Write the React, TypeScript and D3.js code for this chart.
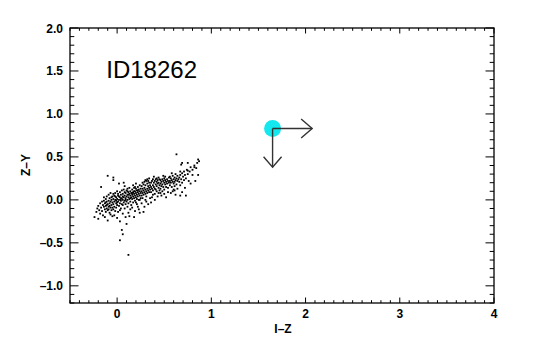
import React, { useEffect, useRef } from 'react';
import * as d3 from 'd3';

// colour-colour points (I-Z, Z-Y)
const pointsBlue: [number, number][] = [
  [-0.24, -0.2], [-0.22, -0.14], [-0.21, -0.1], [-0.2, -0.07], [-0.19, -0.12], [-0.18, -0.04], [-0.18, -0.16],
  [-0.17, -0.09], [-0.16, -0.02], [-0.16, -0.13], [-0.15, -0.06], [-0.17, 0.15], [-0.2, -0.22], [-0.15, -0.18],
  [-0.14, -0.08], [-0.14, -0.01], [-0.13, -0.11], [-0.13, -0.04], [-0.12, 0.01], [-0.12, -0.14], [-0.12, -0.07],
  [-0.11, -0.02], [-0.11, -0.1], [-0.11, 0.04], [-0.1, -0.05], [-0.1, -0.12], [-0.1, 0.28], [-0.09, -0.01],
  [-0.09, -0.08], [-0.09, 0.06], [-0.08, -0.04], [-0.08, -0.15], [-0.08, 0.02], [-0.07, -0.09], [-0.07, -0.02],
  [-0.07, 0.08], [-0.06, -0.06], [-0.06, 0.0], [-0.06, -0.12], [-0.05, -0.03], [-0.05, 0.04], [-0.05, -0.19],
  [-0.13, -0.2], [-0.1, -0.24], [-0.07, -0.17], [-0.14, 0.03], [-0.12, -0.03], [-0.09, -0.11], [-0.11, -0.06],
  [-0.06, 0.03], [-0.08, -0.07], [-0.05, -0.09], [-0.04, 0.26], [-0.04, 0.23],
];

const pointsCore: [number, number][] = [
  [-0.04, -0.05], [-0.04, 0.01], [-0.04, -0.11], [-0.03, 0.05], [-0.03, -0.02], [-0.03, -0.08], [-0.02, 0.0],
  [-0.02, -0.13], [-0.02, 0.08], [-0.01, -0.04], [-0.01, 0.03], [-0.01, -0.09], [0.0, 0.01], [0.0, -0.06],
  [0.0, 0.1], [0.01, -0.02], [0.01, 0.05], [0.01, -0.14], [0.02, 0.0], [0.02, -0.07], [0.02, 0.19], [0.03, 0.03],
  [0.03, -0.04], [0.03, 0.09], [0.04, -0.01], [0.04, -0.1], [0.04, 0.06], [0.05, 0.02], [0.05, -0.05],
  [-0.03, -0.18], [0.0, -0.21], [0.03, -0.25], [0.05, -0.35], [0.03, -0.47], [0.06, -0.4], [-0.02, 0.04],
  [0.01, 0.07], [0.04, 0.01], [-0.01, -0.01], [0.02, 0.04], [0.0, -0.03], [0.05, 0.11], [-0.04, 0.07],
  [0.03, -0.12], [0.12, -0.64],
  [0.06, 0.0], [0.06, 0.07], [0.06, -0.06], [0.07, 0.03], [0.07, -0.03], [0.07, 0.12], [0.08, 0.05], [0.08, -0.01],
  [0.08, -0.1], [0.09, 0.08], [0.09, 0.02], [0.09, -0.05], [0.1, 0.04], [0.1, 0.11], [0.1, -0.02], [0.11, 0.06],
  [0.11, 0.0], [0.11, -0.08], [0.12, 0.09], [0.12, 0.03], [0.12, -0.04], [0.13, 0.07], [0.13, 0.01], [0.13, 0.14],
  [0.14, 0.05], [0.14, -0.02], [0.14, 0.1], [0.15, 0.03], [0.15, 0.08], [0.06, -0.16], [0.09, -0.2], [0.12, -0.15],
  [0.14, -0.11], [0.08, 0.16], [0.11, 0.13], [0.07, 0.2], [0.13, -0.19], [0.1, -0.28], [0.15, -0.06], [0.09, 0.0],
  [0.12, 0.06], [0.06, 0.04], [0.14, 0.02], [0.11, 0.1], [0.08, 0.09],
  [0.16, 0.06], [0.16, 0.01], [0.16, 0.12], [0.17, 0.04], [0.17, 0.09], [0.17, -0.03], [0.18, 0.07], [0.18, 0.14],
  [0.18, 0.02], [0.19, 0.1], [0.19, 0.05], [0.19, -0.01], [0.2, 0.08], [0.2, 0.13], [0.2, 0.03], [0.21, 0.06],
  [0.21, 0.11], [0.21, -0.05], [0.22, 0.09], [0.22, 0.15], [0.22, 0.04], [0.23, 0.07], [0.23, 0.12], [0.23, 0.0],
  [0.24, 0.1], [0.24, 0.05], [0.24, 0.17], [0.25, 0.08], [0.25, 0.13], [0.16, -0.09], [0.19, -0.13], [0.22, -0.08],
  [0.24, -0.15], [0.18, -0.2], [0.2, 0.19], [0.17, 0.17], [0.23, -0.11], [0.21, 0.01], [0.25, 0.02], [0.18, 0.1],
  [0.2, -0.03], [0.22, 0.11], [0.16, 0.08], [0.24, 0.0], [0.19, 0.15],
];

const pointsRed: [number, number][] = [
  [0.26, 0.1], [0.26, 0.05], [0.26, 0.16], [0.27, 0.08], [0.27, 0.13], [0.27, 0.02], [0.28, 0.11], [0.28, 0.18],
  [0.28, 0.06], [0.29, 0.09], [0.29, 0.14], [0.29, 0.21], [0.3, 0.12], [0.3, 0.07], [0.3, 0.17], [0.31, 0.1],
  [0.31, 0.22], [0.31, 0.04], [0.32, 0.13], [0.32, 0.19], [0.32, 0.08], [0.33, 0.11], [0.33, 0.16], [0.33, 0.22],
  [0.34, 0.14], [0.34, 0.09], [0.34, 0.2], [0.35, 0.12], [0.35, 0.17], [0.26, -0.04], [0.29, -0.08], [0.31, -0.02],
  [0.33, -0.05], [0.28, -0.14], [0.35, 0.02], [0.3, 0.23], [0.32, 0.24], [0.27, 0.2], [0.34, 0.25], [0.3, 0.0],
  [0.36, 0.15], [0.36, 0.2], [0.36, 0.09], [0.37, 0.13], [0.37, 0.22], [0.38, 0.17], [0.38, 0.11], [0.38, 0.24],
  [0.39, 0.15], [0.39, 0.2], [0.4, 0.13], [0.4, 0.22], [0.4, 0.07], [0.41, 0.18], [0.41, 0.24], [0.42, 0.16],
  [0.42, 0.21], [0.42, 0.1], [0.43, 0.19], [0.43, 0.23], [0.44, 0.14], [0.44, 0.2], [0.45, 0.17], [0.45, 0.24],
  [0.37, 0.03], [0.4, 0.0], [0.43, 0.04], [0.39, 0.27], [0.44, 0.08], [0.36, -0.03], [0.41, 0.12], [0.45, 0.11],
  [0.38, 0.06], [0.42, 0.25], [0.44, 0.26],
  [0.46, 0.19], [0.46, 0.23], [0.46, 0.13], [0.47, 0.21], [0.47, 0.16], [0.48, 0.24], [0.48, 0.18], [0.48, 0.1],
  [0.49, 0.22], [0.49, 0.15], [0.5, 0.2], [0.5, 0.25], [0.5, 0.12], [0.51, 0.18], [0.51, 0.23], [0.52, 0.21],
  [0.52, 0.15], [0.53, 0.24], [0.53, 0.19], [0.54, 0.22], [0.54, 0.14], [0.55, 0.2], [0.55, 0.26], [0.47, 0.05],
  [0.5, 0.07], [0.52, 0.03], [0.49, 0.28], [0.54, 0.09], [0.51, 0.27], [0.46, 0.08],
  [0.56, 0.22], [0.56, 0.17], [0.56, 0.27], [0.57, 0.2], [0.57, 0.25], [0.58, 0.23], [0.58, 0.15], [0.59, 0.21],
  [0.59, 0.28], [0.6, 0.19], [0.6, 0.24], [0.6, 0.12], [0.61, 0.26], [0.61, 0.21], [0.62, 0.23], [0.62, 0.3],
  [0.63, 0.18], [0.63, 0.25], [0.64, 0.22], [0.64, 0.28], [0.65, 0.24], [0.57, 0.08], [0.59, 0.1], [0.62, 0.06],
  [0.64, 0.13], [0.63, 0.53], [0.58, 0.31], [0.61, 0.16], [0.61, 0.11],
  [0.66, 0.26], [0.66, 0.21], [0.67, 0.29], [0.67, 0.17], [0.68, 0.24], [0.69, 0.31], [0.69, 0.2], [0.7, 0.27],
  [0.71, 0.23], [0.71, 0.33], [0.72, 0.29], [0.73, 0.25], [0.74, 0.35], [0.75, 0.3], [0.76, 0.22], [0.77, 0.33],
  [0.78, 0.38], [0.8, 0.35], [0.82, 0.4], [0.84, 0.37], [0.85, 0.43], [0.86, 0.47], [0.69, 0.09], [0.72, 0.14],
  [0.68, 0.41], [0.75, 0.43], [0.8, 0.29], [0.73, 0.05], [0.87, 0.45], [0.86, 0.29], [0.83, 0.22], [0.78, 0.19],
  [0.67, 0.05], [0.69, 0.43], [0.75, 0.34], [0.82, 0.38], [0.67, 0.33],
];

// the object itself and its shift arrows
const target: [number, number] = [1.65, 0.83];
const arrowRight: [number, number] = [2.07, 0.83];
const arrowDown: [number, number] = [1.65, 0.38];

const xMajor = [0, 1, 2, 3, 4];
const yMajor = [-1.0, -0.5, 0.0, 0.5, 1.0, 1.5, 2.0];

const App: React.FC = () => {
  const svgRef = useRef<SVGSVGElement>(null);

  useEffect(() => {
    if (!svgRef.current) return;
    const svg = d3.select(svgRef.current);
    svg.selectAll('*').remove();

    const left = 70, right = 494, top = 28, bottom = 303;
    const x = d3.scaleLinear().domain([-0.5, 4]).range([left, right]);
    const y = d3.scaleLinear().domain([-1.2, 2.0]).range([bottom, top]);
    const font = "'Liberation Sans', Arial, Helvetica, sans-serif";

    // ticks on all four sides, IDL style
    const xMinor = d3.range(-5, 41).map(i => i / 10);
    const yMinor = d3.range(-12, 21).map(i => i / 10);
    const tk = svg.append('g').attr('stroke', '#000').attr('stroke-width', 1);
    xMinor.forEach(v => {
      const len = xMajor.includes(Math.round(v * 10) / 10) ? 5.5 : 2.8;
      tk.append('line').attr('x1', x(v)).attr('x2', x(v)).attr('y1', bottom).attr('y2', bottom - len);
      tk.append('line').attr('x1', x(v)).attr('x2', x(v)).attr('y1', top).attr('y2', top + len);
    });
    yMinor.forEach(v => {
      const major = yMajor.some(m => Math.abs(m - v) < 1e-6);
      const len = major ? 8.5 : 4.3;
      tk.append('line').attr('y1', y(v)).attr('y2', y(v)).attr('x1', left).attr('x2', left + len);
      tk.append('line').attr('y1', y(v)).attr('y2', y(v)).attr('x1', right).attr('x2', right - len);
    });

    svg.append('rect')
      .attr('x', left).attr('y', top)
      .attr('width', right - left).attr('height', bottom - top)
      .attr('fill', 'none').attr('stroke', '#000').attr('stroke-width', 1.3);

    // tick labels
    svg.selectAll('.xl').data(xMajor).enter().append('text')
      .attr('x', d => x(d)).attr('y', 318)
      .attr('text-anchor', 'middle')
      .style('font-family', font).style('font-size', '12px').style('font-weight', 'bold')
      .text(d => String(d));
    svg.selectAll('.yl').data(yMajor).enter().append('text')
      .attr('x', 63).attr('y', d => y(d) + 4.5)
      .attr('text-anchor', 'end')
      .style('font-family', font).style('font-size', '12px').style('font-weight', 'bold')
      .text(d => (d < 0 ? '\u2013' : '') + Math.abs(d).toFixed(1));

    svg.append('text')
      .attr('x', 283).attr('y', 333).attr('text-anchor', 'middle')
      .style('font-family', font).style('font-size', '12px').style('font-weight', 'bold')
      .text('I\u2013Z');
    svg.append('text')
      .attr('transform', 'translate(30,165) rotate(-90)').attr('text-anchor', 'middle')
      .style('font-family', font).style('font-size', '12px').style('font-weight', 'bold')
      .text('Z\u2013Y');

    svg.append('text')
      .attr('x', x(-0.115)).attr('y', y(1.42))
      .style('font-family', font).style('font-size', '24px')
      .text('ID18262');

    // scatter
    const all = [...pointsBlue, ...pointsCore, ...pointsRed];
    svg.append('g').selectAll('rect').data(all).enter().append('rect')
      .attr('x', d => x(d[0]) - 0.9).attr('y', d => y(d[1]) - 0.9)
      .attr('width', 1.8).attr('height', 1.8).attr('fill', '#000');

    // target marker + arrows
    svg.append('circle')
      .attr('cx', x(target[0])).attr('cy', y(target[1])).attr('r', 8.5)
      .attr('fill', '#12e8ee');
    const ar = svg.append('g').attr('stroke', '#333').attr('stroke-width', 1.4).attr('fill', 'none');
    const tx = x(target[0]), ty = y(target[1]);
    const rx = x(arrowRight[0]), dy = y(arrowDown[1]);
    ar.append('line').attr('x1', tx).attr('y1', ty).attr('x2', rx).attr('y2', ty);
    ar.append('path').attr('d', `M${rx - 11},${ty - 9.5}L${rx},${ty}L${rx - 11},${ty + 9.5}`);
    ar.append('line').attr('x1', tx).attr('y1', ty).attr('x2', tx).attr('y2', dy);
    ar.append('path').attr('d', `M${tx - 9},${dy - 10.5}L${tx},${dy}L${tx + 9},${dy - 10.5}`);
  }, []);

  return (
    <svg ref={svgRef} width={550} height={350}
      style={{ position: 'absolute', left: 0, top: 0, background: '#fff', display: 'block' }} />
  );
};

export default App;
